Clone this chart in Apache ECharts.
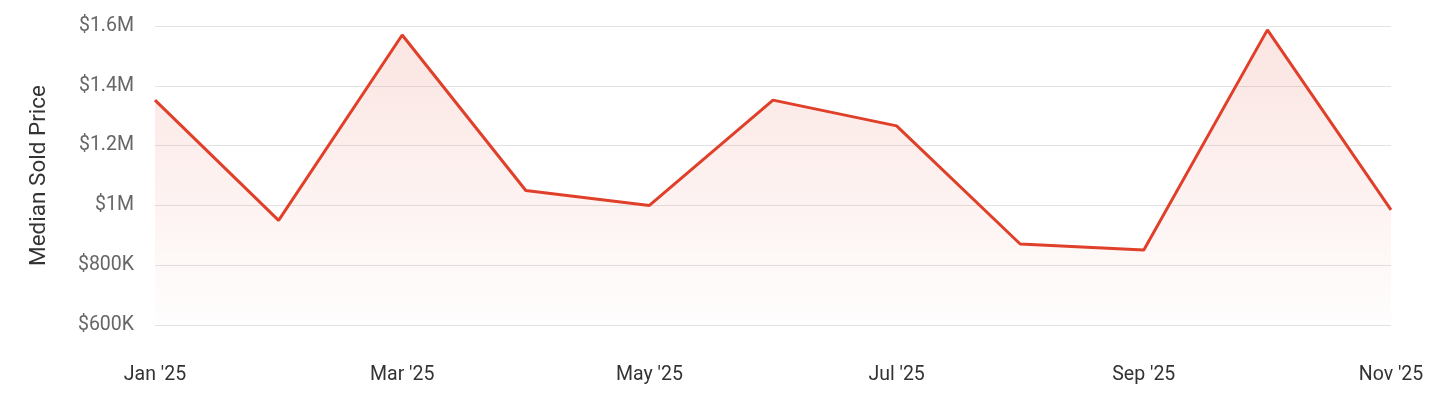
<!DOCTYPE html>
<html><head><meta charset="utf-8">
<script src="https://cdn.jsdelivr.net/npm/echarts@6/dist/echarts.min.js"></script>
<style>html,body{margin:0;padding:0;background:#fff}#c{width:1453px;height:405px}</style>
</head><body><div id="c"></div>
<script>
const categories = ["Jan '25","Feb '25","Mar '25","Apr '25","May '25","Jun '25","Jul '25","Aug '25","Sep '25","Oct '25","Nov '25"];
const medianPrice = [1352000, 950000, 1570000, 1050000, 1000000, 1352000, 1266000, 871000, 851000, 1587000, 985000];
const yAxisTitle = "Median Sold Price";

function fmt(v){
  if (v >= 1000000) return '$' + (v/1000000).toString().replace(/\.0$/,'') + 'M';
  return '$' + (v/1000) + 'K';
}

const chart = echarts.init(document.getElementById('c'));
chart.setOption({
  animation: false,
  textStyle: { fontFamily: 'Roboto' },
  grid: { left: 155, right: 62, top: 26, bottom: 80 },
  xAxis: {
    type: 'category',
    data: categories,
    boundaryGap: false,
    axisLine: { show: false },
    axisTick: { show: false },
    axisLabel: { interval: 1, color: '#333', fontSize: 19.5, margin: 40, fontFamily: 'Roboto' }
  },
  yAxis: {
    type: 'value',
    min: 600000, max: 1600000, interval: 200000,
    name: yAxisTitle,
    nameLocation: 'middle',
    nameGap: 104,
    nameTextStyle: { color: '#333', fontSize: 22.5, fontFamily: 'Roboto' },
    axisLine: { show: false },
    axisTick: { show: false },
    axisLabel: { formatter: fmt, color: '#666', fontSize: 19.5, margin: 21, fontFamily: 'Roboto' },
    splitLine: { lineStyle: { color: '#e3e3e3', width: 1 } }
  },
  series: [{
    type: 'line',
    data: medianPrice,
    symbol: 'none',
    lineStyle: { color: '#e0402a', width: 3 },
    itemStyle: { color: '#e0402a' },
    areaStyle: {
      origin: 'start',
      color: new echarts.graphic.LinearGradient(0,0,0,1,[
        { offset: 0, color: 'rgba(224,64,42,0.2)' },
        { offset: 1, color: 'rgba(224,64,42,0.01)' }
      ])
    }
  }]
});
</script></body></html>
